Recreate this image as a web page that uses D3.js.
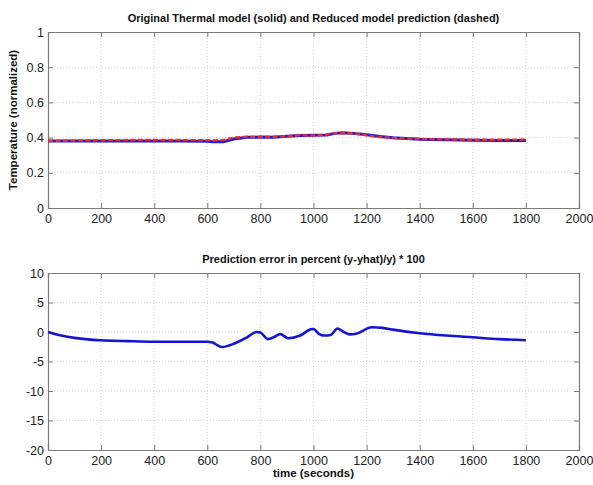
<!DOCTYPE html>
<html><head><meta charset="utf-8">
<script src="https://cdn.jsdelivr.net/npm/d3@7"></script>
<style>
body{margin:0;background:#fff;}
text{font-family:"Liberation Sans",Arial,sans-serif;}
</style></head>
<body><svg id="c" width="593" height="485"></svg>
<script>
// ---- data ----
const timeTicks = [0,200,400,600,800,1000,1200,1400,1600,1800,2000];
const tempTicks = [0,0.2,0.4,0.6,0.8,1];
const errTicks = [-20,-15,-10,-5,0,5,10];

const tempTime = [0,100,200,300,400,500,600,620,660,700,750,800,850,900,950,1000,1050,1080,1110,1150,1200,1250,1300,1350,1400,1500,1600,1700,1800];
const tempSolid = [0.380,0.380,0.380,0.380,0.380,0.380,0.379,0.377,0.376,0.392,0.402,0.403,0.402,0.407,0.412,0.413,0.415,0.424,0.427,0.424,0.416,0.406,0.399,0.395,0.391,0.388,0.385,0.384,0.384];
const tempDashed = [0.381,0.383,0.385,0.386,0.386,0.386,0.385,0.384,0.386,0.400,0.405,0.403,0.405,0.408,0.414,0.411,0.418,0.424,0.425,0.425,0.413,0.403,0.398,0.395,0.392,0.390,0.388,0.388,0.389];

const errTime = [0,50,100,150,200,300,400,500,600,620,655,700,750,785,800,828,850,875,904,950,990,1000,1020,1040,1065,1090,1110,1135,1160,1220,1260,1300,1400,1500,1600,1700,1800];
const errVals = [0,-0.6,-1.0,-1.25,-1.4,-1.55,-1.65,-1.65,-1.65,-1.8,-2.55,-2.0,-0.9,0.0,-0.1,-1.2,-0.9,-0.35,-1.05,-0.6,0.45,0.5,-0.3,-0.6,-0.5,0.6,0.1,-0.4,-0.3,0.8,0.7,0.4,-0.2,-0.6,-0.9,-1.2,-1.4];

// ---- drawing ----
const svg = d3.select("#c");
const L = 48, R = 579;
const x = d3.scaleLinear().domain([0,2000]).range([L,R]);

function panel(top, bottom, yDomain, yTicksArr, title) {
  const y = d3.scaleLinear().domain(yDomain).range([bottom, top]);
  const g = svg.append("g");
  // grid
  g.selectAll(".gx").data(timeTicks.slice(1,-1)).join("line")
    .attr("x1", d=>x(d)).attr("x2", d=>x(d)).attr("y1", top).attr("y2", bottom)
    .attr("stroke","#c8c8c8").attr("stroke-width",0.8).attr("stroke-dasharray","1,2");
  g.selectAll(".gy").data(yTicksArr.slice(1,-1)).join("line")
    .attr("y1", d=>y(d)).attr("y2", d=>y(d)).attr("x1", L).attr("x2", R)
    .attr("stroke","#c8c8c8").attr("stroke-width",0.8).attr("stroke-dasharray","1,2");
  // axes (inner ticks)
  const ax = d3.axisBottom(x).tickValues(timeTicks).tickSize(-5).tickPadding(6).tickFormat(d3.format("d"));
  const axT = d3.axisTop(x).tickValues(timeTicks).tickSize(-5).tickFormat("");
  const ay = d3.axisLeft(y).tickValues(yTicksArr).tickSize(-5).tickPadding(4).tickFormat(d=>String(d));
  const ayR = d3.axisRight(y).tickValues(yTicksArr).tickSize(-5).tickFormat("");
  const gb = g.append("g").attr("transform",`translate(0,${bottom})`).call(ax);
  const gt = g.append("g").attr("transform",`translate(0,${top})`).call(axT);
  const gl = g.append("g").attr("transform",`translate(${L},0)`).call(ay);
  const gr = g.append("g").attr("transform",`translate(${R},0)`).call(ayR);
  [gb,gt,gl,gr].forEach(a=>{
    a.selectAll("path").attr("stroke","#7a7a7a").attr("stroke-width",1.2);
    a.selectAll("line").attr("stroke","#7a7a7a");
    a.selectAll("text").attr("fill","#222").style("font-size","12.5px");
  });
  g.append("text").attr("x",(L+R)/2).attr("y",top-10).attr("text-anchor","middle")
    .style("font-weight","bold").style("font-size","11px").attr("fill","#111").text(title);
  return y;
}

const y1 = panel(32, 208, [0,1], tempTicks, "Original Thermal model (solid) and Reduced model prediction (dashed)");
const y2 = panel(273, 450, [-20,10], errTicks, "Prediction error in percent (y-yhat)/y) * 100");

const line1 = d3.line().x((d,i)=>x(tempTime[i])).y(d=>y1(d));
svg.append("path").datum(tempSolid).attr("d",line1).attr("fill","none")
  .attr("stroke","#1a1ad8").attr("stroke-width",3);
svg.append("path").datum(tempDashed).attr("d",line1).attr("fill","none")
  .attr("stroke","#ee2a2a").attr("stroke-width",2.4).attr("stroke-dasharray","5,2.5");

const line2 = d3.line().x((d,i)=>x(errTime[i])).y(d=>y2(d)).curve(d3.curveMonotoneX);
svg.append("path").datum(errVals).attr("d",line2).attr("fill","none")
  .attr("stroke","#1414d6").attr("stroke-width",2.6);

// axis labels
svg.append("text").attr("transform","translate(17,120) rotate(-90)").attr("text-anchor","middle")
  .style("font-weight","bold").style("font-size","11.5px").attr("fill","#111").text("Temperature (normalized)");
svg.append("text").attr("x",(L+R)/2).attr("y",477).attr("text-anchor","middle")
  .style("font-weight","bold").style("font-size","11.5px").attr("fill","#111").text("time (seconds)");
</script></body></html>
